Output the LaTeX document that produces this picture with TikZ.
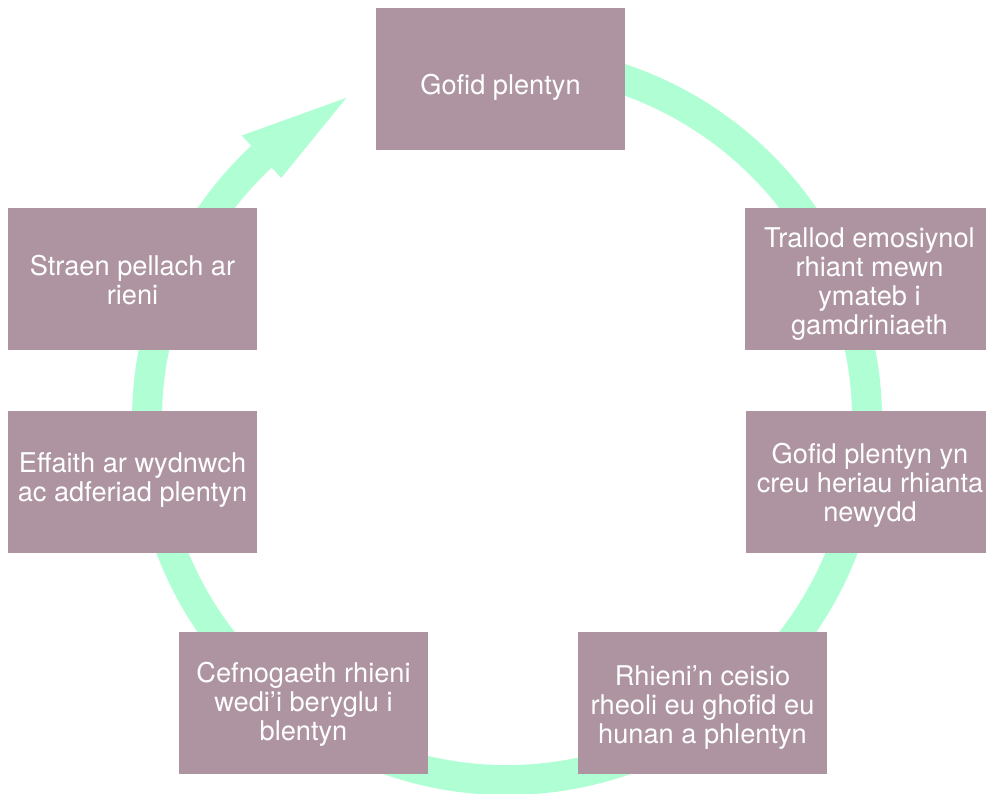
\documentclass[tikz,border=0pt]{standalone}
\usepackage{fontspec}
\setmainfont{TeX Gyre Heros}
\definecolor{boxc}{RGB}{173,148,160}
\definecolor{ringc}{RGB}{176,255,212}
\newcommand{\stagetext}[2]{\raisebox{-#1pt}[\height][\depth]{\begin{tabular}{@{}c@{}}#2\end{tabular}}}
\begin{document}
\begin{tikzpicture}[x=1pt,y=-1pt,
  stagebox/.style={fill=boxc, minimum width=249pt, minimum height=142pt, inner sep=0pt,
    text=white, align=center, font=\fontsize{27.2}{29}\selectfont},
  ring/.style={draw=ringc, line width=30pt}]
\useasboundingbox (0,0) rectangle (986,794);
\clip (0,0) rectangle (986,794);
\coordinate (c) at (507,420);
\draw[ring] ([shift={(-105:360)}]c) arc[start angle=-105, end angle=227, radius=360];
\fill[ringc] ([shift={(227:389)}]c) -- ([shift={(227:331)}]c) -- ([shift={(243.5:360)}]c) -- cycle;
\node[stagebox] (n1) at (500.5,79) {\stagetext{10}{Gofid plentyn}};
\node[stagebox] (n2) at (869.5,279) {\stagetext{6}{Trallod emosiynol\\rhiant mewn\\ymateb i\\gamdriniaeth}};
\node[stagebox] (n3) at (870,482) {\stagetext{5}{Gofid plentyn yn\\creu heriau rhianta\\newydd}};
\node[stagebox] (n4) at (702.5,703) {\stagetext{6}{Rhieni’n ceisio\\rheoli eu ghofid eu\\hunan a phlentyn}};
\node[stagebox] (n5) at (303.5,703) {\stagetext{3}{Cefnogaeth rhieni\\wedi’i beryglu i\\blentyn}};
\node[stagebox] (n6) at (132.5,482) {\stagetext{-1}{Effaith ar wydnwch\\ac adferiad plentyn}};
\node[stagebox] (n7) at (132.5,279) {\stagetext{5}{Straen pellach ar\\rieni}};
\end{tikzpicture}
\end{document}
